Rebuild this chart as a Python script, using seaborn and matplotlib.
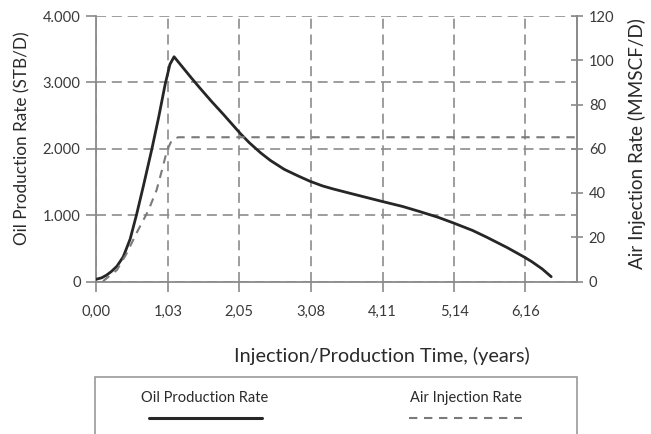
import matplotlib
matplotlib.use("Agg")
import matplotlib.pyplot as plt
from matplotlib.patches import Rectangle
from matplotlib.lines import Line2D
import seaborn as sns
import pandas as pd

# --- dados ---
oil_t = [0.0, 0.08, 0.15, 0.22, 0.30, 0.39, 0.49, 0.58, 0.68, 0.80, 0.90, 0.99, 1.06, 1.12,
         1.21, 1.35, 1.49, 1.66, 1.83, 2.07, 2.20, 2.36, 2.50, 2.70, 2.90, 3.07, 3.25, 3.40,
         3.64, 4.09, 4.40, 4.64, 4.90, 5.12, 5.40, 5.60, 5.90, 6.15, 6.25, 6.40, 6.53]
oil_rate = [33, 55, 95, 150, 230, 370, 640, 1000, 1440, 1990, 2480, 2960, 3270, 3386,
            3270, 3090, 2915, 2710, 2515, 2230, 2090, 1940, 1825, 1690, 1590, 1510, 1440, 1395,
            1330, 1210, 1130, 1055, 970, 885, 770, 670, 510, 364, 300, 190, 72]

air_t = [0.10, 0.13, 0.30, 0.44, 0.58, 0.75, 0.87, 0.94, 1.02, 1.09, 1.18, 6.9]
air_rate = [0, 0.9, 5.2, 12.7, 21.8, 32, 41.4, 49.6, 59.4, 64, 65.2, 65.2]

x_ticks = [0.0, 1.03, 2.05, 3.08, 4.11, 5.14, 6.16]
x_labels = ['0,00', '1,03', '2,05', '3,08', '4,11', '5,14', '6,16']
oil_ticks = [0, 1000, 2000, 3000, 4000]
oil_labels = ['0', '1.000', '2.000', '3.000', '4.000']
air_ticks = [0, 20, 40, 60, 80, 100, 120]

df_oil = pd.DataFrame({'t': oil_t, 'oil': oil_rate})
df_air = pd.DataFrame({'t': air_t, 'air': air_rate})

sns.set_theme(style="white")
plt.rcParams['font.family'] = ['Lato', 'DejaVu Sans']

TXT = '#3a3a3a'
LAB = '#2a2a2a'
GRID = '#8c8c8c'
SPINE = '#8a8a8a'

fig = plt.figure(figsize=(6.51, 4.34), dpi=100)
ax = fig.add_axes([96 / 651, 1 - 281.5 / 434, 481 / 651, 265.5 / 434])

sns.lineplot(data=df_oil, x='t', y='oil', ax=ax, color='#262626', lw=2.0, zorder=3)
ax.set_xlim(0, 6.9)
ax.set_ylim(0, 4000)
ax.set_xticks(x_ticks)
ax.set_xticklabels(x_labels)
ax.set_yticks(oil_ticks)
ax.set_yticklabels(oil_labels)

ax.grid(True, color=GRID, ls=(0, (6, 3.5)), lw=1.2)
ax.set_axisbelow(True)
ax.spines['top'].set_visible(False)
for s in ['left', 'bottom', 'right']:
    ax.spines[s].set_color(SPINE)
    ax.spines[s].set_linewidth(1.3)

ax.tick_params(axis='both', which='major', direction='out', length=7, width=1.2,
               color=SPINE, labelcolor=TXT, labelsize=10.6)
ax.tick_params(axis='x', pad=10, bottom=True)
ax.tick_params(axis='y', pad=4, left=True)

ax.set_xlabel('Injection/Production Time, (years)', fontsize=14.3, color=LAB)
ax.xaxis.set_label_coords(0.595, -0.247)
ax.set_ylabel('Oil Production Rate (STB/D)', fontsize=12.3, color=LAB,
              va='center', ha='center')
ax.yaxis.set_label_coords(-0.154, 0.54)

# eixo direito: injeção de ar
ax2 = ax.twinx()
sns.lineplot(data=df_air, x='t', y='air', ax=ax2, color='#7a7a7a', lw=1.5, zorder=3)
ax2.lines[0].set_linestyle((0, (4, 3.2)))
ax2.set_ylim(0, 120)
ax2.set_yticks(air_ticks)
ax2.grid(False)
for s in ['top', 'left', 'bottom']:
    ax2.spines[s].set_visible(False)
ax2.spines['right'].set_color(SPINE)
ax2.spines['right'].set_linewidth(1.3)
ax2.tick_params(axis='y', direction='inout', length=9, width=1.2, color=SPINE,
                labelcolor=TXT, labelsize=10.6, pad=4, right=True)
ax2.set_ylabel('Air Injection Rate (MMSCF/D)', fontsize=13.6, color=LAB,
               rotation=90, va='center', ha='center')
ax2.yaxis.set_label_coords(1.124, 0.52)

# --- legenda em caixa abaixo do gráfico ---
fig.patches.append(Rectangle((95 / 651, -0.2), 482 / 651, 0.2 + 1 - 376.7 / 434,
                             transform=fig.transFigure, fill=False, ec='#9a9a9a',
                             lw=1.2, clip_on=False))
fig.text(204.9 / 651, 1 - 398.3 / 434, 'Oil Production Rate', ha='center', va='center',
         fontsize=10.5, color=LAB)
fig.text(465.8 / 651, 1 - 398.3 / 434, 'Air Injection Rate', ha='center', va='center',
         fontsize=10.5, color=LAB)
yl = 1 - 417.7 / 434
fig.lines.append(Line2D([149 / 651, 261.7 / 651], [yl, yl], transform=fig.transFigure,
                        color='#262626', lw=2.2))
fig.lines.append(Line2D([409 / 651, 522 / 651], [yl, yl], transform=fig.transFigure,
                        color='#7a7a7a', lw=1.5, ls=(0, (4, 3.2))))

fig.savefig('out.png', dpi=100)
